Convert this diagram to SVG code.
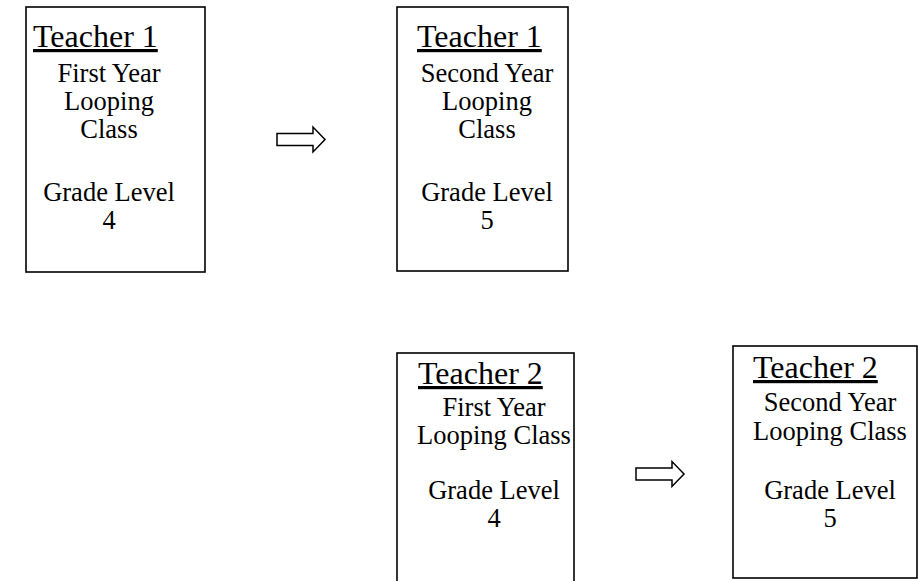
<svg xmlns="http://www.w3.org/2000/svg" width="918" height="581" viewBox="0 0 918 581">
<style>
.box{fill:#fff;stroke:#000;stroke-width:1.6}
.t{font-family:"Liberation Serif","Times New Roman",serif;font-size:32px;fill:#000;text-decoration:underline}
.b{font-family:"Liberation Serif","Times New Roman",serif;font-size:26.5px;fill:#000;text-anchor:middle}
.arr{fill:#fff;stroke:#000;stroke-width:1.5;stroke-linejoin:miter}
</style>
<rect width="918" height="581" fill="#fff"/>
<g id="t1y1">
<rect class="box" x="26" y="7" width="179" height="265"/>
<text class="t" x="33" y="47">Teacher 1</text>
<text class="b" x="109" y="82">First Year</text>
<text class="b" x="109" y="110">Looping</text>
<text class="b" x="109" y="138">Class</text>
<text class="b" x="109" y="201">Grade Level</text>
<text class="b" x="109" y="229">4</text>
</g>
<g id="t1y2">
<rect class="box" x="397" y="7" width="171" height="264"/>
<text class="t" x="417" y="47">Teacher 1</text>
<text class="b" x="487" y="82">Second Year</text>
<text class="b" x="487" y="110">Looping</text>
<text class="b" x="487" y="138">Class</text>
<text class="b" x="487" y="201">Grade Level</text>
<text class="b" x="487" y="229">5</text>
</g>
<g id="t2y1">
<rect class="box" x="397" y="353" width="177" height="240"/>
<text class="t" x="418" y="384">Teacher 2</text>
<text class="b" x="494" y="416">First Year</text>
<text class="b" x="494" y="444">Looping Class</text>
<text class="b" x="494" y="499">Grade Level</text>
<text class="b" x="494" y="527">4</text>
</g>
<g id="t2y2">
<rect class="box" x="733" y="346" width="184" height="232"/>
<text class="t" x="753" y="378">Teacher 2</text>
<text class="b" x="830" y="411">Second Year</text>
<text class="b" x="830" y="440">Looping Class</text>
<text class="b" x="830" y="499">Grade Level</text>
<text class="b" x="830" y="527">5</text>
</g>
<g id="connectors">
<path class="arr" d="M277,133.5 H313 V127 L325,139.5 L313,152 V145.5 H277 Z"/>
<path class="arr" d="M636,468 H672 V461.5 L684,474 L672,486.5 V480 H636 Z"/>
</g>
</svg>
